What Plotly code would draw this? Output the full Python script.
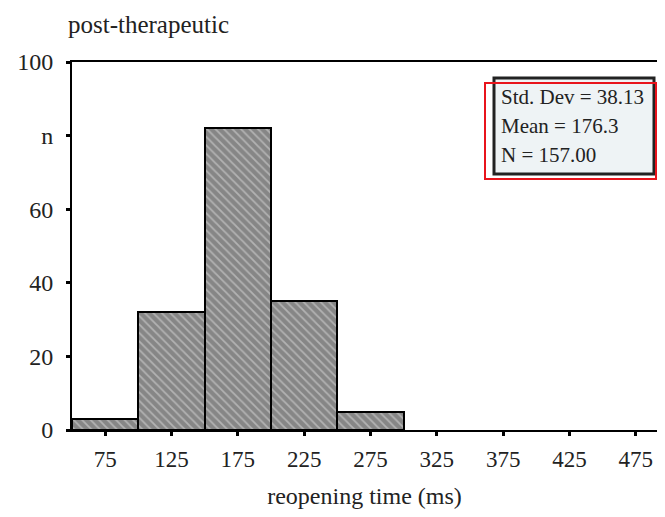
import plotly.graph_objects as go

bin_centers = [75, 125, 175, 225, 275]
counts = [3, 32, 82, 35, 5]
x_tick_vals = [75, 125, 175, 225, 275, 325, 375, 425, 475]
x_tick_text = ["75", "125", "175", "225", "275", "325", "375", "425", "475"]
y_tick_vals = [0, 20, 40, 60, 80, 100]
y_tick_text = ["0", "20", "40", "60", "n", "100"]
stats_lines = ["Std. Dev = 38.13", "Mean = 176.3", "N = 157.00"]

FONT = "Liberation Serif"
OFF = 8  # browser body margin
W, H = 665 - 2 * OFF, 517 - 2 * OFF
PX0, PX1, PY0, PY1 = 72, 657, 62, 430  # plot area in page pixels
L, R, T, B = PX0 - OFF, 0, PY0 - OFF, (H + OFF) - PY1
X_MAX = 50 + (PX1 - PX0) / (593 / 447)


def px(x):
    return (x - PX0) / (PX1 - PX0)


def py(y):
    return (PY1 - y) / (PY1 - PY0)


fig = go.Figure()
fig.add_trace(go.Bar(
    x=bin_centers, y=counts, width=50,
    marker=dict(
        color="#8c8c8c",
        line=dict(color="black", width=2),
        pattern=dict(shape="\\", bgcolor="#868686", fgcolor="#dedede", size=6, solidity=0.3),
    ),
    showlegend=False,
))

fig.update_layout(
    width=W, height=H,
    margin=dict(l=L, r=R, t=T, b=B),
    plot_bgcolor="white", paper_bgcolor="white",
    font=dict(family=FONT, color="#222222"),
    bargap=0,
    xaxis=dict(
        range=[50, X_MAX], tickvals=x_tick_vals, ticktext=x_tick_text,
        showline=True, linecolor="black", linewidth=2, mirror=True,
        ticks="outside", ticklen=4, tickwidth=3, tickcolor="black",
        tickfont=dict(size=23, family=FONT), ticklabelstandoff=3,
        showgrid=False, zeroline=False,
        title=dict(text="reopening time (ms)", font=dict(size=24, family=FONT), standoff=18),
    ),
    yaxis=dict(
        range=[0, 100], tickvals=y_tick_vals, ticktext=y_tick_text,
        showline=True, linecolor="black", linewidth=2, mirror=False,
        ticks="outside", ticklen=4, tickwidth=3, tickcolor="black",
        tickfont=dict(size=24, family=FONT), ticklabelstandoff=8,
        showgrid=False, zeroline=False,
    ),
)

fig.add_annotation(text="post-therapeutic", xref="paper", yref="paper",
                   x=px(66), y=py(25), xanchor="left", yanchor="middle",
                   showarrow=False, font=dict(size=25, family=FONT, color="#222222"))

fig.add_shape(type="rect", xref="paper", yref="paper",
              x0=px(494), x1=px(654), y0=py(174), y1=py(78),
              line=dict(color="#222222", width=3), fillcolor="#eef3f5", layer="above")
fig.add_shape(type="rect", xref="paper", yref="paper",
              x0=px(485), x1=px(656), y0=py(179), y1=py(83),
              line=dict(color="#e8141c", width=2), fillcolor="rgba(0,0,0,0)", layer="above")

for i, line in enumerate(stats_lines):
    fig.add_annotation(text=line, xref="paper", yref="paper",
                       x=px(499), y=py(97 + 29 * i), xanchor="left", yanchor="middle",
                       showarrow=False, font=dict(size=21, family=FONT, color="#222222"))

fig.write_html("out.html")
